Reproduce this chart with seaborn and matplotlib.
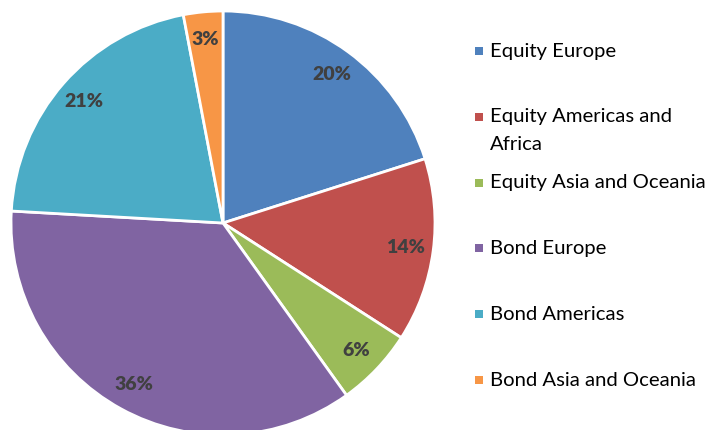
import matplotlib
matplotlib.use("Agg")
import matplotlib.pyplot as plt
import seaborn as sns
from matplotlib.patches import Rectangle

# asset allocation (share of portfolio, %)
categories = ['Equity Europe', 'Equity Americas and Africa', 'Equity Asia and Oceania',
              'Bond Europe', 'Bond Americas', 'Bond Asia and Oceania']
shares = [20.1, 14.0, 6.0, 35.8, 21.1, 3.0]
colors = ['#4F81BD', '#C0504D', '#9BBB59', '#8064A2', '#4BACC6', '#F79646']
legend_labels = ['Equity Europe', 'Equity Americas and\nAfrica', 'Equity Asia and Oceania',
                 'Bond Europe', 'Bond Americas', 'Bond Asia and Oceania']

sns.set_theme(style='white')
plt.rcParams['font.family'] = ['Lato', 'DejaVu Sans']

W, H = 710, 430
fig = plt.figure(figsize=(W / 100, H / 100), dpi=100)

# pie centre at (223, 223) px from top-left, radius 212 px
cx, cy, r = 223, 223, 212
ax = fig.add_axes([(cx - r) / W, (H - cy - r) / H, 2 * r / W, 2 * r / H])
wedges, texts, autotexts = ax.pie(
    shares, colors=colors, startangle=90, counterclock=False,
    autopct='%.0f%%', pctdistance=0.87, radius=1,
    wedgeprops=dict(edgecolor='white', linewidth=2),
    textprops=dict(fontsize=14, fontweight='heavy', color='#404040'))
ax.set_xlim(-1, 1)
ax.set_ylim(-1, 1)
ax.set_aspect('equal')
ax.axis('off')

# legend on the right, one row every ~65.8 px, wrapped lines 28 px apart
for i, (lab, col) in enumerate(zip(legend_labels, colors)):
    y_top = 51 + i * 65.8
    fig.patches.append(Rectangle((475 / W, 1 - (y_top + 4) / H), 8 / W, 8 / H,
                                 transform=fig.transFigure, facecolor=col,
                                 edgecolor='none'))
    for j, line in enumerate(lab.split('\n')):
        fig.text(490 / W, 1 - (y_top + j * 28) / H, line, fontsize=14.6,
                 color='black', ha='left', va='center')

fig.savefig('out.png', dpi=100)
